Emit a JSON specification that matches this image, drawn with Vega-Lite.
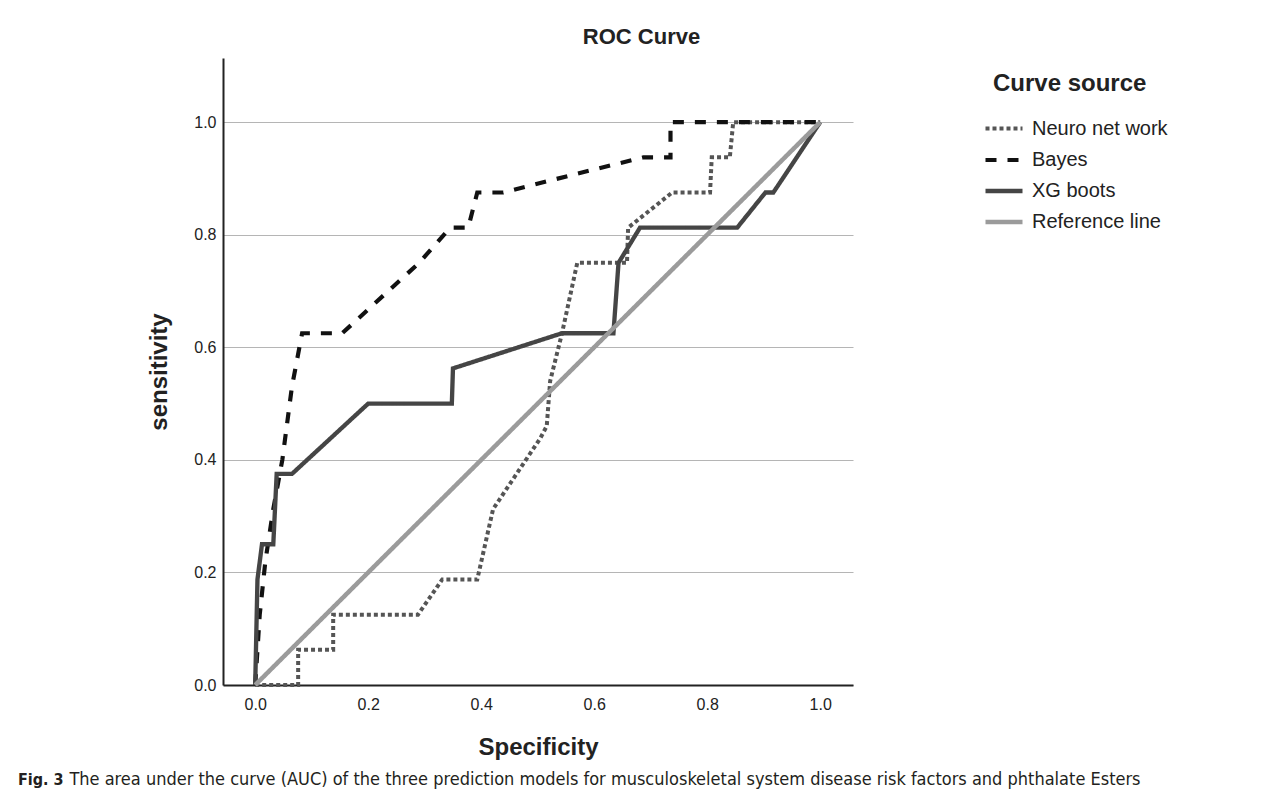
{
  "$schema": "https://vega.github.io/schema/vega-lite/v6.json",
  "width": 630,
  "height": 627,
  "autosize": {"type": "none"},
  "padding": {"left": 223, "top": 58, "right": 429, "bottom": 123},
  "background": "white",
  "config": {
    "view": {"stroke": null},
    "font": "Liberation Sans"
  },
  "title": {
    "text": "Fig. 3",
    "subtitle": "\u200b\u00a0\u00a0\u00a0\u00a0\u00a0\u00a0\u00a0\u00a0\u00a0\u00a0The area under the curve (AUC) of the three prediction models for musculoskeletal system disease risk factors and phthalate Esters",
    "orient": "bottom",
    "anchor": "start",
    "frame": "group",
    "dx": -205,
    "offset": 13,
    "font": "Liberation Sans Narrow, DejaVu Sans Condensed, Liberation Sans",
    "subtitleFont": "Liberation Sans Narrow, DejaVu Sans Condensed, Liberation Sans",
    "fontSize": 16,
    "subtitleFontSize": 18,
    "fontWeight": "bold",
    "subtitleFontWeight": "normal",
    "subtitlePadding": -17.5,
    "color": "#231f20",
    "subtitleColor": "#231f20"
  },
  "data": {
    "values": [
      {"s": "Neuro net work", "i": 0, "spec": 0, "sens": 0},
      {"s": "Neuro net work", "i": 1, "spec": 0.076, "sens": 0},
      {"s": "Neuro net work", "i": 2, "spec": 0.076, "sens": 0.0625},
      {"s": "Neuro net work", "i": 3, "spec": 0.138, "sens": 0.0625},
      {"s": "Neuro net work", "i": 4, "spec": 0.138, "sens": 0.125},
      {"s": "Neuro net work", "i": 5, "spec": 0.288, "sens": 0.125},
      {"s": "Neuro net work", "i": 6, "spec": 0.331, "sens": 0.1875},
      {"s": "Neuro net work", "i": 7, "spec": 0.393, "sens": 0.1875},
      {"s": "Neuro net work", "i": 8, "spec": 0.421, "sens": 0.3125},
      {"s": "Neuro net work", "i": 9, "spec": 0.504, "sens": 0.4375},
      {"s": "Neuro net work", "i": 10, "spec": 0.516, "sens": 0.46},
      {"s": "Neuro net work", "i": 11, "spec": 0.522, "sens": 0.54},
      {"s": "Neuro net work", "i": 12, "spec": 0.543, "sens": 0.625},
      {"s": "Neuro net work", "i": 13, "spec": 0.57, "sens": 0.75},
      {"s": "Neuro net work", "i": 14, "spec": 0.658, "sens": 0.75},
      {"s": "Neuro net work", "i": 15, "spec": 0.66, "sens": 0.8125},
      {"s": "Neuro net work", "i": 16, "spec": 0.738, "sens": 0.875},
      {"s": "Neuro net work", "i": 17, "spec": 0.805, "sens": 0.875},
      {"s": "Neuro net work", "i": 18, "spec": 0.808, "sens": 0.9375},
      {"s": "Neuro net work", "i": 19, "spec": 0.84, "sens": 0.9375},
      {"s": "Neuro net work", "i": 20, "spec": 0.846, "sens": 1},
      {"s": "Neuro net work", "i": 21, "spec": 1, "sens": 1},
      {"s": "Bayes", "i": 0, "spec": 0, "sens": 0},
      {"s": "Bayes", "i": 1, "spec": 0.008, "sens": 0.125},
      {"s": "Bayes", "i": 2, "spec": 0.018, "sens": 0.22},
      {"s": "Bayes", "i": 3, "spec": 0.032, "sens": 0.3125},
      {"s": "Bayes", "i": 4, "spec": 0.048, "sens": 0.4},
      {"s": "Bayes", "i": 5, "spec": 0.065, "sens": 0.53},
      {"s": "Bayes", "i": 6, "spec": 0.083, "sens": 0.625},
      {"s": "Bayes", "i": 7, "spec": 0.154, "sens": 0.625},
      {"s": "Bayes", "i": 8, "spec": 0.29, "sens": 0.75},
      {"s": "Bayes", "i": 9, "spec": 0.345, "sens": 0.8125},
      {"s": "Bayes", "i": 10, "spec": 0.377, "sens": 0.8125},
      {"s": "Bayes", "i": 11, "spec": 0.393, "sens": 0.875},
      {"s": "Bayes", "i": 12, "spec": 0.439, "sens": 0.875},
      {"s": "Bayes", "i": 13, "spec": 0.56, "sens": 0.906},
      {"s": "Bayes", "i": 14, "spec": 0.687, "sens": 0.9375},
      {"s": "Bayes", "i": 15, "spec": 0.735, "sens": 0.9375},
      {"s": "Bayes", "i": 16, "spec": 0.735, "sens": 1},
      {"s": "Bayes", "i": 17, "spec": 1, "sens": 1},
      {"s": "XG boots", "i": 0, "spec": 0, "sens": 0},
      {"s": "XG boots", "i": 1, "spec": 0.004, "sens": 0.1875},
      {"s": "XG boots", "i": 2, "spec": 0.012, "sens": 0.25},
      {"s": "XG boots", "i": 3, "spec": 0.032, "sens": 0.25},
      {"s": "XG boots", "i": 4, "spec": 0.038, "sens": 0.375},
      {"s": "XG boots", "i": 5, "spec": 0.065, "sens": 0.375},
      {"s": "XG boots", "i": 6, "spec": 0.2, "sens": 0.5},
      {"s": "XG boots", "i": 7, "spec": 0.348, "sens": 0.5},
      {"s": "XG boots", "i": 8, "spec": 0.35, "sens": 0.5625},
      {"s": "XG boots", "i": 9, "spec": 0.543, "sens": 0.625},
      {"s": "XG boots", "i": 10, "spec": 0.634, "sens": 0.625},
      {"s": "XG boots", "i": 11, "spec": 0.643, "sens": 0.75},
      {"s": "XG boots", "i": 12, "spec": 0.681, "sens": 0.8125},
      {"s": "XG boots", "i": 13, "spec": 0.853, "sens": 0.8125},
      {"s": "XG boots", "i": 14, "spec": 0.903, "sens": 0.875},
      {"s": "XG boots", "i": 15, "spec": 0.917, "sens": 0.875},
      {"s": "XG boots", "i": 16, "spec": 1, "sens": 1},
      {"s": "Reference line", "i": 0, "spec": 0, "sens": 0},
      {"s": "Reference line", "i": 1, "spec": 1, "sens": 1}
    ]
  },
  "encoding": {
    "y": {
      "field": "sens",
      "type": "quantitative",
      "scale": {"domain": [0, 1.114], "nice": false, "zero": false},
      "axis": {
        "values": [0, 0.2, 0.4, 0.6, 0.8, 1],
        "format": ".1f",
        "ticks": false,
        "tickSize": 0,
        "labelFontSize": 16,
        "labelPadding": 7,
        "labelColor": "#222222",
        "title": "sensitivity",
        "titleFontSize": 24,
        "titleFontWeight": "bold",
        "titleColor": "#222222",
        "titlePadding": 22,
        "grid": true,
        "gridColor": "#b5b5b5",
        "gridWidth": 1,
        "domainColor": "#222222",
        "domainWidth": 2
      }
    },
    "color": {
      "field": "s",
      "type": "nominal",
      "scale": {
        "domain": ["Neuro net work", "Bayes", "XG boots", "Reference line"],
        "range": ["#555555", "#111111", "#454545", "#9b9b9b"]
      },
      "legend": {
        "title": "Curve source",
        "orient": "none",
        "legendX": 770,
        "legendY": 14,
        "titleFontSize": 24,
        "titleFontWeight": "bold",
        "titleColor": "#222222",
        "titlePadding": 12,
        "labelFontSize": 20,
        "labelColor": "#222222",
        "labelOffset": 7,
        "symbolType": "stroke",
        "symbolSize": 1369,
        "symbolStrokeWidth": 2,
        "symbolOffset": -10,
        "rowPadding": -4
      }
    },
    "strokeDash": {
      "field": "s",
      "type": "nominal",
      "scale": {
        "domain": ["Neuro net work", "Bayes", "XG boots", "Reference line"],
        "range": [[4, 3], [11, 11], [1, 0], [1, 0]]
      },
      "legend": {
        "title": "Curve source"
      }
    },
    "strokeWidth": {
      "field": "s",
      "type": "nominal",
      "scale": {
        "domain": ["Neuro net work", "Bayes", "XG boots", "Reference line"],
        "range": [4, 4.5, 4, 3.5]
      },
      "legend": null
    },
    "order": {"field": "i", "type": "quantitative"}
  },
  "layer": [
    {
      "transform": [{"filter": "datum.s !== 'Reference line'"}],
      "mark": {"type": "line", "clip": false},
      "encoding": {
        "x": {
          "field": "spec",
          "type": "quantitative",
          "scale": {"domain": [-0.057, 1.058], "nice": false, "zero": false},
          "axis": {
            "orient": "bottom",
            "values": [0, 0.2, 0.4, 0.6, 0.8, 1],
            "format": ".1f",
            "grid": false,
            "ticks": false,
            "tickSize": 0,
            "labelFontSize": 16,
            "labelPadding": 11,
            "labelColor": "#222222",
            "title": "Specificity",
            "titleFontSize": 24,
            "titleFontWeight": "bold",
            "titleColor": "#222222",
            "titlePadding": 23,
            "domainColor": "#222222",
            "domainWidth": 2
          }
        }
      }
    },
    {
      "transform": [{"filter": "datum.s === 'Reference line'"}],
      "mark": {"type": "line", "clip": false},
      "encoding": {
        "x": {
          "field": "spec",
          "type": "quantitative",
          "axis": {
            "orient": "top",
            "title": "ROC Curve",
            "labels": false,
            "ticks": false,
            "domain": false,
            "grid": false,
            "titleFontSize": 22,
            "titleFontWeight": "bold",
            "titleColor": "#222222",
            "titlePadding": 10,
            "titleX": 418
          }
        }
      }
    }
  ],
  "resolve": {"axis": {"x": "independent"}}
}
